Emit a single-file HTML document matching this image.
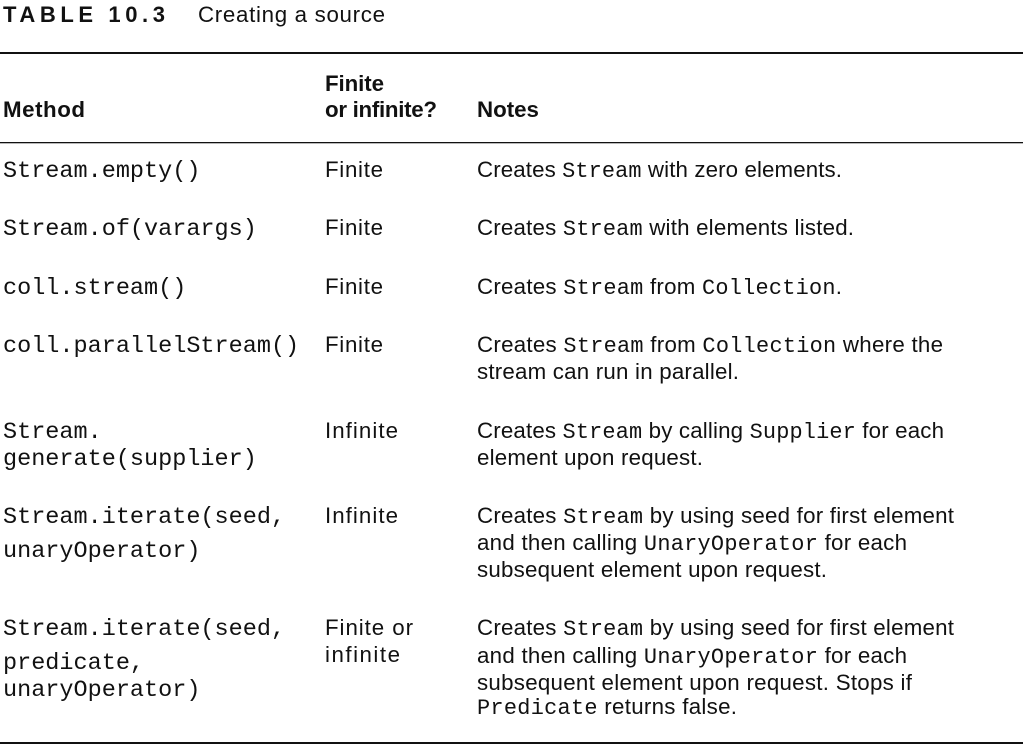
<!DOCTYPE html>
<html><head><meta charset="utf-8"><style>
html,body{margin:0;padding:0;background:#fff;width:1023px;height:749px;overflow:hidden}
text{fill:#111;font-family:"Liberation Sans",sans-serif;font-size:22.3px}
.m{font-family:"Liberation Mono",monospace;font-size:23.5px}
.n{font-family:"Liberation Mono",monospace;font-size:21.9px}
.b{font-weight:bold}
</style></head><body>
<svg width="1023" height="749" xmlns="http://www.w3.org/2000/svg">
<text x="3" y="22" class="b" style="font-size:22px;letter-spacing:3px" textLength="165" lengthAdjust="spacing">TABLE 10.3</text>
<text x="198" y="22" textLength="187" lengthAdjust="spacing">Creating a source</text>
<rect x="0" y="52" width="1023" height="2" fill="#111"/>
<rect x="0" y="142" width="1023" height="1.3" fill="#111"/>
<rect x="0" y="742" width="1023" height="2" fill="#111"/>
<text x="3" y="117" class="b" textLength="82" lengthAdjust="spacing">Method</text>
<text x="325" y="91" class="b" textLength="59" lengthAdjust="spacing">Finite</text>
<text x="325" y="117" class="b" textLength="112" lengthAdjust="spacing">or infinite?</text>
<text x="477" y="117" class="b">Notes</text>

<text x="3" y="177" class="m">Stream.empty()</text>
<text x="325" y="177" textLength="58" lengthAdjust="spacing">Finite</text>
<text x="477" y="177" textLength="365" lengthAdjust="spacing">Creates <tspan class="n">Stream</tspan> with zero elements.</text>

<text x="3" y="235" class="m">Stream.of(varargs)</text>
<text x="325" y="235" textLength="58" lengthAdjust="spacing">Finite</text>
<text x="477" y="235" textLength="377" lengthAdjust="spacing">Creates <tspan class="n">Stream</tspan> with elements listed.</text>

<text x="3" y="294" class="m">coll.stream()</text>
<text x="325" y="294" textLength="58" lengthAdjust="spacing">Finite</text>
<text x="477" y="294" textLength="365" lengthAdjust="spacing">Creates <tspan class="n">Stream</tspan> from <tspan class="n">Collection</tspan>.</text>

<text x="3" y="352" class="m">coll.parallelStream()</text>
<text x="325" y="352" textLength="58" lengthAdjust="spacing">Finite</text>
<text x="477" y="352" textLength="466" lengthAdjust="spacing">Creates <tspan class="n">Stream</tspan> from <tspan class="n">Collection</tspan> where the</text>
<text x="477" y="379" textLength="262" lengthAdjust="spacing">stream can run in parallel.</text>

<text x="3" y="438" class="m">Stream.</text>
<text x="3" y="465" class="m">generate(supplier)</text>
<text x="325" y="438" textLength="73" lengthAdjust="spacing">Infinite</text>
<text x="477" y="438" textLength="467" lengthAdjust="spacing">Creates <tspan class="n">Stream</tspan> by calling <tspan class="n">Supplier</tspan> for each</text>
<text x="477" y="465" textLength="226" lengthAdjust="spacing">element upon request.</text>

<text x="3" y="523" class="m">Stream.iterate(seed,</text>
<text x="3" y="557" class="m">unaryOperator)</text>
<text x="325" y="523" textLength="73" lengthAdjust="spacing">Infinite</text>
<text x="477" y="523" textLength="477" lengthAdjust="spacing">Creates <tspan class="n">Stream</tspan> by using seed for first element</text>
<text x="477" y="550" textLength="430" lengthAdjust="spacing">and then calling <tspan class="n">UnaryOperator</tspan> for each</text>
<text x="477" y="577" textLength="350" lengthAdjust="spacing">subsequent element upon request.</text>

<text x="3" y="635" class="m">Stream.iterate(seed,</text>
<text x="3" y="669" class="m">predicate,</text>
<text x="3" y="696" class="m">unaryOperator)</text>
<text x="325" y="635" textLength="88" lengthAdjust="spacing">Finite or</text>
<text x="325" y="662" textLength="75" lengthAdjust="spacing">infinite</text>
<text x="477" y="635" textLength="477" lengthAdjust="spacing">Creates <tspan class="n">Stream</tspan> by using seed for first element</text>
<text x="477" y="663" textLength="430" lengthAdjust="spacing">and then calling <tspan class="n">UnaryOperator</tspan> for each</text>
<text x="477" y="690" textLength="435" lengthAdjust="spacing">subsequent element upon request. Stops if</text>
<text x="477" y="714" textLength="260" lengthAdjust="spacing"><tspan class="n">Predicate</tspan> returns false.</text>
</svg>
</body></html>
